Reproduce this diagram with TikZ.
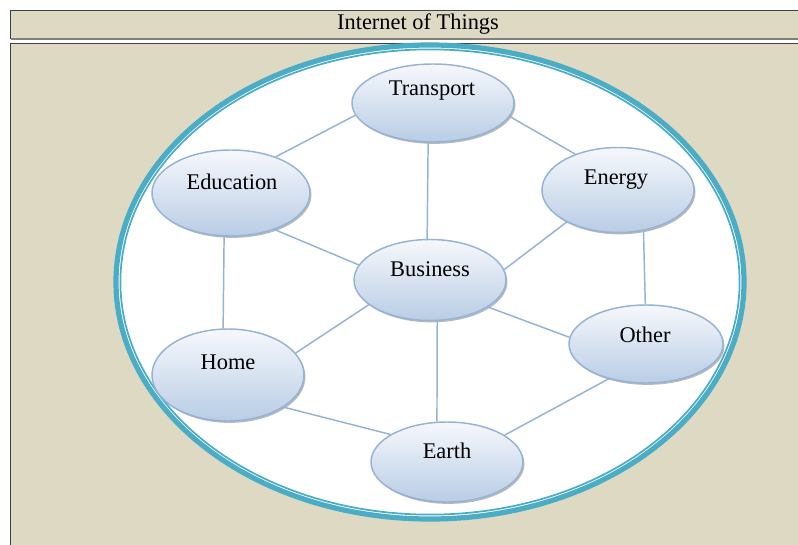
\documentclass[tikz,border=0pt]{standalone}
\usepackage{fontspec}
\setmainfont{Liberation Serif}
\usetikzlibrary{shapes.geometric,shadows}
\definecolor{beige}{RGB}{221,217,195}
\definecolor{frame}{RGB}{64,64,64}
\definecolor{teal}{RGB}{75,172,198}
\definecolor{edgeblue}{RGB}{149,179,215}
\definecolor{topfill}{RGB}{246,248,252}
\definecolor{botfill}{RGB}{185,205,229}
\tikzset{
  bub/.style 2 args={ellipse, draw=edgeblue, line width=1.1pt, inner sep=0pt,
    minimum width=#1*0.75pt, minimum height=#2*0.75pt,
    top color=topfill, bottom color=botfill,
    drop shadow={shadow xshift=1.1pt, shadow yshift=-1.4pt, fill=black!50, opacity=0.55}},
  lbl/.style={anchor=base, inner sep=0pt, font=\fontsize{16.8}{20}\selectfont},
  link/.style={draw=edgeblue, line width=1.1pt},
}
\begin{document}
\begin{tikzpicture}[x=0.75pt, y=-0.75pt]
\useasboundingbox (0,0) rectangle (798,545);
\fill[white] (0,0) rectangle (798,545);
% title bar
\filldraw[fill=beige, draw=frame, line width=0.9pt] (10.5,10.5) rectangle (805,38.5);
\draw[gray, line width=0.8pt] (10.5,39) -- (805,39);
\node[lbl] (title) at (418,30) {Internet of Things};
% main panel
\filldraw[fill=beige, draw=frame, line width=0.9pt] (10.5,43.5) rectangle (805,552);
% ring
\filldraw[fill=white, draw=teal, line width=3.9pt] (430,282) ellipse [x radius=314, y radius=237];
\draw[teal, line width=1.3pt] (430,282) ellipse [x radius=309.6, y radius=232.6];
% nodes
\node[bub={162}{78}] (tr) at (433,103) {};
\node[bub={158}{86}] (ed) at (231,193) {};
\node[bub={152}{85}] (en) at (618,190) {};
\node[bub={152}{81}] (bu) at (430,280) {};
\node[bub={152}{92}] (ho) at (228,375) {};
\node[bub={154}{78}] (ot) at (646,344) {};
\node[bub={152}{80}] (ea) at (447,462) {};
% labels
\node[lbl] (trl) at (432,96) {Transport};
\node[lbl] (edl) at (232,190) {Education};
\node[lbl] (enl) at (616,185) {Energy};
\node[lbl] (bul) at (430,276) {Business};
\node[lbl] (hol) at (228,369) {Home};
\node[lbl] (otl) at (645,342) {Other};
\node[lbl] (eal) at (447,458) {Earth};
% connectors
\draw[link] (tr.189) -- (ed.39);
\draw[link] (tr.350) -- (en.140);
\draw[link] (tr.263) -- (bu.94);
\draw[link] (ed.320) -- (bu.168);
\draw[link] (ed.261) -- (ho.96);
\draw[link] (en.212) -- (bu.8);
\draw[link] (en.302) -- (ot.91);
\draw[link] (bu.202) -- (ho.18);
\draw[link] (bu.335) -- (ot.175);
\draw[link] (bu.280) -- (ea.104);
\draw[link] (ho.330) -- (ea.154);
\draw[link] (ot.223) -- (ea.25);
\end{tikzpicture}
\end{document}
